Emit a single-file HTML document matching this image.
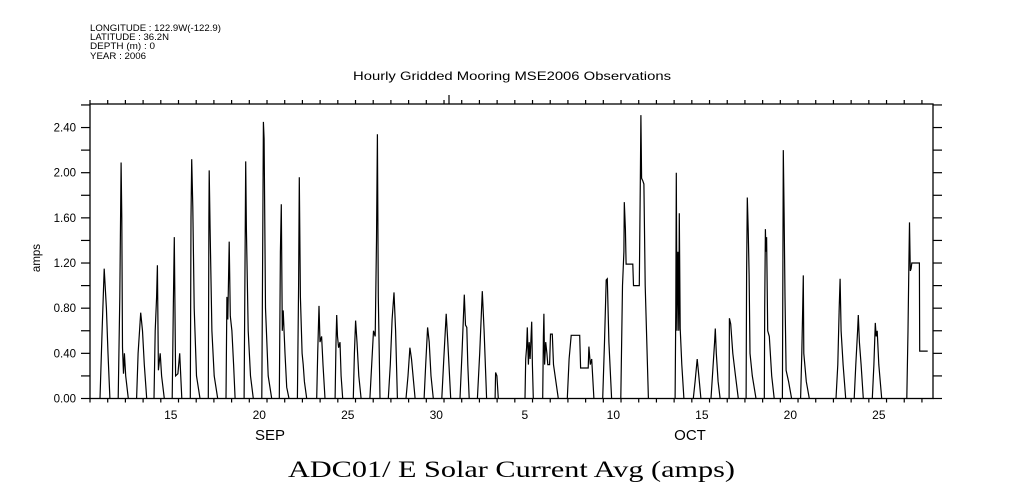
<!DOCTYPE html>
<html><head><meta charset="utf-8"><style>
html,body{margin:0;padding:0;background:#fff;}
svg{display:block;font-family:"Liberation Sans",sans-serif;}
</style></head><body>
<svg id="chart" width="1009" height="504" viewBox="0 0 1009 504" xmlns="http://www.w3.org/2000/svg">
<rect x="0" y="0" width="1009" height="504" fill="#fff"/>
<g font-size="9" fill="#000">
<text x="90" y="31" textLength="131" lengthAdjust="spacingAndGlyphs">LONGITUDE : 122.9W(-122.9)</text>
<text x="90" y="40" textLength="79" lengthAdjust="spacingAndGlyphs">LATITUDE : 36.2N</text>
<text x="90" y="49" textLength="65" lengthAdjust="spacingAndGlyphs">DEPTH (m) : 0</text>
<text x="90" y="59" textLength="56" lengthAdjust="spacingAndGlyphs">YEAR : 2006</text>
</g>
<text x="353" y="80" font-size="12" textLength="318" lengthAdjust="spacingAndGlyphs">Hourly Gridded Mooring MSE2006 Observations</text>
<text x="0" y="0" font-size="11.5" text-anchor="middle" transform="translate(40,258) rotate(-90)">amps</text>
<text x="270" y="440" font-size="15" text-anchor="middle">SEP</text>
<text x="690" y="440" font-size="15" text-anchor="middle">OCT</text>
<text x="288" y="477" font-size="23" font-family="'Liberation Serif',serif" textLength="447" lengthAdjust="spacingAndGlyphs">ADC01/ E Solar Current Avg (amps)</text>
<g id="axes"></g>
<g id="series"></g>
</svg>
<script>
const yTicks=[0,0.4,0.8,1.2,1.6,2.0,2.4];
const yTickLabels=["0.00","0.40","0.80","1.20","1.60","2.00","2.40"];
const xLabelDays=[14,19,24,29,34,39,44,49,54];
const xLabels=["15","20","25","30","5","10","15","20","25"];
const events=[
[[10.0,0],[10.12,0.6],[10.24,1.15],[10.36,0.8],[10.45,0.4],[10.56,0]],
[[11.03,0],[11.12,0.9],[11.19,2.09],[11.23,1.6],[11.27,0.45],[11.33,0.22],[11.38,0.4],[11.45,0.2],[11.6,0]],
[[12.07,0],[12.15,0.4],[12.3,0.76],[12.4,0.6],[12.5,0.3],[12.64,0]],
[[13.05,0],[13.12,0.6],[13.2,0.9],[13.24,1.18],[13.3,0.25],[13.4,0.4],[13.48,0.2],[13.63,0]],
[[14.08,0],[14.14,0.8],[14.2,1.43],[14.27,0.2],[14.4,0.22],[14.5,0.4],[14.62,0]],
[[15.1,0],[15.14,1.6],[15.18,2.12],[15.24,1.7],[15.32,0.8],[15.45,0.2],[15.65,0]],
[[16.12,0],[16.15,1.6],[16.17,2.02],[16.22,1.5],[16.32,0.6],[16.45,0.2],[16.65,0]],
[[17.12,0],[17.17,0.9],[17.22,0.7],[17.3,1.39],[17.36,0.73],[17.45,0.6],[17.55,0.3],[17.63,0]],
[[18.14,0],[18.2,1.3],[18.23,2.1],[18.27,1.5],[18.37,0.6],[18.5,0.2],[18.66,0]],
[[19.14,0],[19.2,1.5],[19.23,2.45],[19.27,2.3],[19.35,0.8],[19.5,0.2],[19.7,0]],
[[20.13,0],[20.19,1.3],[20.24,1.72],[20.3,0.6],[20.35,0.78],[20.45,0.4],[20.55,0.1],[20.68,0]],
[[21.15,0],[21.22,1.0],[21.26,1.96],[21.32,0.9],[21.42,0.4],[21.48,0.3],[21.55,0.15],[21.68,0]],
[[22.24,0],[22.3,0.4],[22.37,0.82],[22.43,0.5],[22.52,0.55],[22.6,0.3],[22.71,0]],
[[23.28,0],[23.33,0.5],[23.37,0.74],[23.42,0.55],[23.48,0.45],[23.56,0.5],[23.62,0.2],[23.71,0]],
[[24.31,0],[24.37,0.4],[24.44,0.69],[24.52,0.5],[24.62,0.2],[24.75,0]],
[[25.25,0],[25.35,0.3],[25.45,0.6],[25.55,0.55],[25.62,1.4],[25.67,2.34],[25.72,0.9],[25.82,0]],
[[26.29,0],[26.4,0.3],[26.5,0.7],[26.61,0.94],[26.7,0.6],[26.8,0]],
[[27.29,0],[27.4,0.2],[27.51,0.45],[27.6,0.35],[27.8,0]],
[[28.31,0],[28.4,0.3],[28.51,0.63],[28.6,0.5],[28.7,0.2],[28.83,0]],
[[29.31,0],[29.42,0.35],[29.56,0.75],[29.65,0.5],[29.81,0]],
[[30.34,0],[30.45,0.4],[30.58,0.92],[30.65,0.65],[30.72,0.63],[30.78,0.3],[30.86,0]],
[[31.32,0],[31.45,0.4],[31.6,0.95],[31.7,0.6],[31.84,0]],
[[32.32,0],[32.35,0.23],[32.42,0.2],[32.5,0]],
[[34.01,0],[34.05,0.35],[34.1,0.45],[34.14,0.63],[34.2,0.3],[34.25,0.5],[34.3,0.35],[34.39,0.68],[34.43,0.3],[34.48,0]],
[[35.01,0],[35.05,0.55],[35.08,0.75],[35.12,0.3],[35.18,0.5],[35.25,0.4],[35.3,0.3],[35.4,0.3],[35.45,0.57],[35.55,0.57],[35.62,0.3],[35.89,0]],
[[36.4,0],[36.5,0.35],[36.62,0.56],[37.1,0.56],[37.15,0.27],[37.58,0.27],[37.62,0.46],[37.7,0.3],[37.78,0.35],[37.9,0]],
[[38.4,0],[38.5,0.5],[38.6,1.05],[38.66,1.06],[38.75,0.5],[38.9,0]],
[[39.42,0],[39.52,1.0],[39.6,1.3],[39.62,1.74],[39.68,1.5],[39.72,1.19],[40.1,1.19],[40.14,1.0],[40.47,1.0],[40.53,2.0],[40.56,2.51],[40.6,1.95],[40.66,1.93],[40.73,1.9],[40.8,1.0],[40.98,0]],
[[42.49,0],[42.53,0.8],[42.56,2.0],[42.6,0.6],[42.65,1.3],[42.7,0.6],[42.73,1.64],[42.78,0.62],[42.87,0.3],[42.99,0]],
[[43.52,0],[43.62,0.15],[43.74,0.35],[43.8,0.25],[43.95,0]],
[[44.52,0],[44.62,0.25],[44.72,0.5],[44.76,0.62],[44.82,0.4],[44.92,0.15],[45.03,0]],
[[45.54,0],[45.56,0.71],[45.63,0.66],[45.75,0.4],[45.9,0.2],[46.06,0]],
[[46.5,0],[46.53,1.1],[46.57,1.78],[46.62,1.5],[46.67,1.1],[46.72,0.4],[46.85,0.2],[47.06,0]],
[[47.53,0],[47.55,0.8],[47.59,1.5],[47.62,1.3],[47.66,1.43],[47.72,0.6],[47.81,0.55],[47.95,0.2],[48.09,0]],
[[48.55,0],[48.58,1.2],[48.6,2.2],[48.65,1.64],[48.7,0.9],[48.76,0.25],[48.9,0.15],[49.07,0]],
[[49.58,0],[49.65,0.4],[49.7,0.8],[49.73,1.09],[49.76,0.4],[49.9,0.15],[50.07,0]],
[[51.58,0],[51.68,0.3],[51.76,0.8],[51.81,1.06],[51.87,0.6],[51.98,0.3],[52.13,0]],
[[52.61,0],[52.7,0.3],[52.8,0.6],[52.84,0.74],[52.9,0.5],[53.0,0.3],[53.12,0]],
[[53.63,0],[53.72,0.3],[53.8,0.67],[53.85,0.55],[53.91,0.6],[54.0,0.3],[54.16,0]],
[[55.58,0],[55.65,0.6],[55.7,1.2],[55.73,1.56],[55.78,1.13],[55.82,1.15],[55.86,1.2],[56.29,1.2],[56.31,0.42],[56.76,0.42]]
];
const NS="http://www.w3.org/2000/svg";
const X0=90,X1=933,Y0=398.5,Y1=104;
const D0=9.435,D1=57.06;
function xs(d){return X0+(d-D0)/(D1-D0)*(X1-X0);}
function ys(v){return Y0-v*112.9;}
function mk(tag,attrs,parent){const e=document.createElementNS(NS,tag);for(const k in attrs)e.setAttribute(k,attrs[k]);parent.appendChild(e);return e;}
const axes=document.getElementById('axes');
const frame=mk('rect',{x:X0,y:Y1,width:X1-X0,height:Y0-Y1,fill:'none',stroke:'#000','stroke-width':1.3},axes);


for(let d=D0;d<=D1+0.01;d+=1){
  const x=xs(d);
  const tb=mk('line',{x1:x,x2:x,y1:Y0,y2:Y0+4,stroke:'#000','stroke-width':1.2},axes);
  
  
  const tt=mk('line',{x1:x,x2:x,y1:Y1-4,y2:Y1,stroke:'#000','stroke-width':1.2},axes);
  
  
}
const mid=mk('line',{x1:449,x2:449,y1:Y1-9,y2:Y1,stroke:'#000','stroke-width':1.2},axes);


for(let v=0;v<=2.61;v+=0.2){
  const y=ys(v);
  const tl=mk('line',{x1:X0-9,x2:X0,y1:y,y2:y,stroke:'#000','stroke-width':1.2},axes);
  
  
  const tr=mk('line',{x1:X1,x2:X1+9,y1:y,y2:y,stroke:'#000','stroke-width':1.2},axes);
  
  
}
yTicks.forEach((v,i)=>{
  const t=mk('text',{x:X0-14,y:ys(v)+4,'font-size':11.5,'text-anchor':'end'},axes);
  t.textContent=yTickLabels[i];
  
  
});
xLabelDays.forEach((d,i)=>{
  const t=mk('text',{x:xs(d),y:419,'font-size':12,'text-anchor':'middle'},axes);
  t.textContent=xLabels[i];
  
  
});
const series=document.getElementById('series');
events.forEach(ev=>{
  const p=mk('polyline',{points:ev.map(q=>xs(q[0]).toFixed(1)+','+ys(q[1]).toFixed(1)).join(' '),fill:'none',stroke:'#000','stroke-width':1.2},series);
  
  
});
</script>
</body></html>
